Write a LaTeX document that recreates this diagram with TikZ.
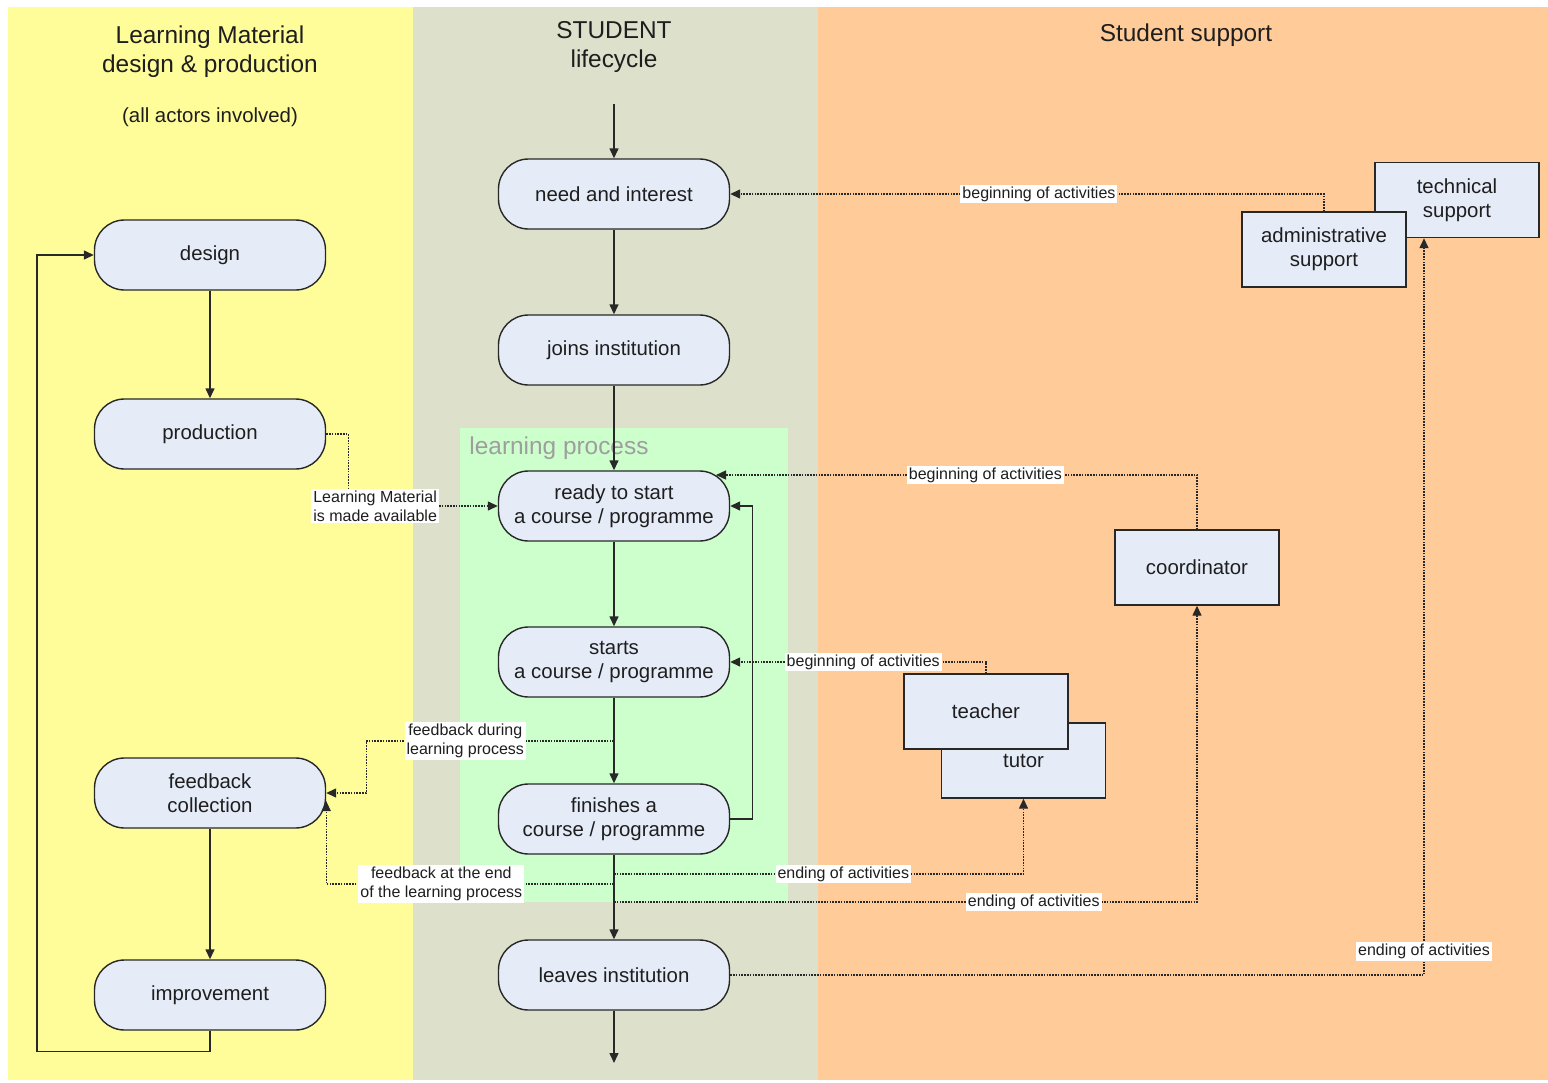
\documentclass[tikz,border=0pt]{standalone}
\usepackage{fontspec}
\setmainfont{Liberation Sans}
\usetikzlibrary{arrows.meta}

\definecolor{laneyellow}{RGB}{255,253,153}
\definecolor{lanegrey}{RGB}{221,224,203}
\definecolor{laneorange}{RGB}{255,203,153}
\definecolor{lanegreen}{RGB}{204,255,204}
\definecolor{boxfill}{RGB}{229,236,248}
\definecolor{lineco}{RGB}{40,40,40}
\definecolor{textco}{RGB}{30,30,30}

\tikzset{
  flow/.style={draw=lineco,line width=0.7pt,->},
  link/.style={draw=lineco,line width=0.7pt,dash pattern=on 0.8pt off 0.6pt,->},
  tag/.style={fill=white,inner sep=1pt,text=textco,font=\fontsize{8}{9.5}\selectfont},
  pill/.style={draw=lineco,line width=0.7pt,fill=boxfill,rounded corners=15pt,
    minimum width=115.5pt,minimum height=35pt,align=center,text=textco,
    font=\fontsize{10.2}{12}\selectfont},
  actor/.style={draw=lineco,line width=0.7pt,fill=boxfill,
    minimum width=82pt,minimum height=37.5pt,align=center,text=textco,
    font=\fontsize{10.2}{12}\selectfont}
}

\begin{document}
\begin{tikzpicture}[x=0.5pt,y=-0.5pt,>={Triangle[length=5pt,width=4.5pt]}]

      \useasboundingbox (0,0) rectangle (1548,1082);
      \fill[white] (0,0) rectangle (1548,1082);
      \fill[laneyellow] (8,7) rectangle (413,1080);
      \fill[lanegrey] (413,7) rectangle (818,1080);
      \fill[laneorange] (818,7) rectangle (1548,1080);
      \fill[lanegreen] (460,428) rectangle (788,902);

      \begin{scope}[every node/.style={align=center,text=textco,font=\fontsize{12.2}{14.5}\selectfont}]
        \node (lmtitle)      at (210,52)  {Learning Material\\design \& production};
        \node (actors)       at (210,117) {\fontsize{10.2}{12}\selectfont(all actors involved)};
        \node (studenttitle) at (614,47)  {STUDENT\\lifecycle};
        \node (supporttitle) at (1186,35) {Student support};
        \node[text=black!38] (lptitle) at (559,448) {learning process};
      \end{scope}

      \begin{scope}[every node/.style={pill}]
        \node (design)      at (210,255) {design};
        \node (production)  at (210,434) {production};
        \node (feedback)    at (210,793) {feedback\\collection};
        \node (improvement) at (210,995) {improvement};
        \node (need)        at (614,194) {need and interest};
        \node (joins)       at (614,350) {joins institution};
        \node (ready)       at (614,506) {ready to start\\a course / programme};
        \node (starts)      at (614,662) {starts\\a course / programme};
        \node (finishes)    at (614,819) {finishes a\\course / programme};
        \node (leaves)      at (614,975) {leaves institution};
      \end{scope}

      \begin{scope}[every node/.style={actor}]
        \node (technical)   at (1457,200)    {technical\\support};
        \node (admin)       at (1324,249.5)  {administrative\\support};
        \node (coordinator) at (1197,567.5)  {coordinator};
        \node (tutor)       at (1023.5,760.5) {tutor};
        \node (teacher)     at (986,711.5)   {teacher};
      \end{scope}

      \coordinate (entry)    at (614,104);
      \coordinate (exit)     at (614,1063);
      \coordinate (readyne)  at (716,475);
      \coordinate (fbduring) at (614,741);
      \coordinate (endtutor) at (614,874);
      \coordinate (fbend)    at (614,884);
      \coordinate (endcoord) at (614,902);

      \draw[flow] (entry) -- (need);
      \draw[flow] (need) -- (joins);
      \draw[flow] (joins) -- (ready);
      \draw[flow] (ready) -- (starts);
      \draw[flow] (starts) -- (finishes);
      \draw[flow] (finishes) -- (leaves);
      \draw[flow] (leaves) -- (exit);
      \draw[flow] (design) -- (production);
      \draw[flow] (feedback) -- (improvement);
      \draw[flow] (improvement.south) -- ++(0,21) -| ([xshift=-28.5pt]design.west) -- (design.west);
      \draw[flow] (finishes.east) -- ++(22,0) |- (ready.east);

      \draw[link] (admin.north) |- node[tag,pos=0.74] {beginning of activities} (need.east);
      \draw[link] (coordinator.north) |- node[tag,pos=0.72] {beginning of activities} (readyne);
      \draw[link] (teacher.north) |- node[tag,pos=0.74] {beginning of activities} (starts.east);
      \draw[link] (production.east) -- ++(22,0) |- node[tag,align=left,pos=0.59]
        {Learning Material\\is made available} (ready.west);
      \draw[link] (fbduring) -| node[tag,align=center,pos=0.3]
        {feedback during\\learning process} ([xshift=20pt]feedback.east) -- (feedback.east);
      \draw[link] (fbend) -| node[tag,align=center,pos=0.3]
        {feedback at the end\\of the learning process} ([yshift=-4pt]feedback.east);
      \draw[link] (endtutor) -| node[tag,pos=0.28] {ending of activities} (tutor.south);
      \draw[link] (endcoord) -| node[tag,pos=0.36] {ending of activities} (coordinator.south);
      \draw[link] (leaves.east) -| node[tag,pos=0.516] {ending of activities} ([xshift=-16.5pt]technical.south);

    \end{tikzpicture}
\end{document}
